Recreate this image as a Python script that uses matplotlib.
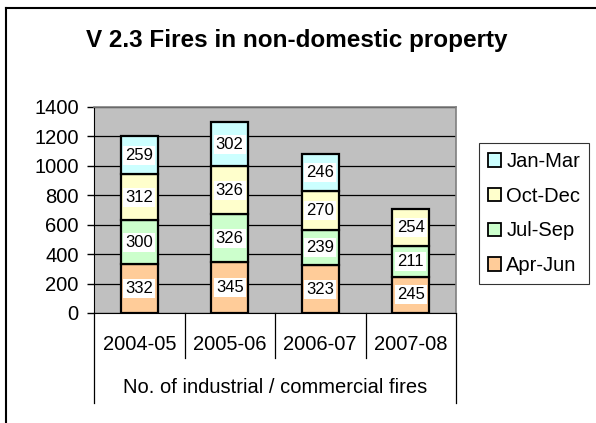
import matplotlib
matplotlib.use("Agg")
import matplotlib.pyplot as plt
from matplotlib.lines import Line2D
from matplotlib.patches import Patch
import numpy as np

plt.rcParams["font.family"] = ["Liberation Sans", "DejaVu Sans"]

YEARS = ["2004-05", "2005-06", "2006-07", "2007-08"]
QUARTERS = ["Apr-Jun", "Jul-Sep", "Oct-Dec", "Jan-Mar"]
APR_JUN = [332, 345, 323, 245]
JUL_SEP = [300, 326, 239, 211]
OCT_DEC = [312, 326, 270, 254]
JAN_MAR = [259, 302, 246, 0]
COLORS = ["#FFCC99", "#CCFFCC", "#FFFFCC", "#CCFFFF"]

TITLE = "V 2.3 Fires in non-domestic property"
GROUP_LABEL = "No. of industrial / commercial fires"

fig = plt.figure(figsize=(5.96, 4.23), dpi=100)
ax = fig.add_axes([94 / 596, 1 - 313 / 423, 362 / 596, 206 / 423])
ax.set_facecolor("#C0C0C0")

x = np.arange(len(YEARS))
bottom = np.zeros(len(YEARS))
handles = []
for name, vals, color in zip(QUARTERS, [APR_JUN, JUL_SEP, OCT_DEC, JAN_MAR], COLORS):
    vals = np.array(vals, dtype=float)
    mask = vals > 0
    ax.bar(x[mask], vals[mask], bottom=bottom[mask], width=0.41, color=color,
           edgecolor="black", linewidth=1.6, zorder=3)
    for xi, v, b in zip(x[mask], vals[mask], bottom[mask]):
        ax.text(xi, b + v / 2, f"{int(v)}", ha="center", va="center", fontsize=12,
                zorder=4, bbox=dict(facecolor="white", edgecolor="none", pad=1.5))
    bottom = bottom + vals
    handles.append(Patch(facecolor=color, edgecolor="black", linewidth=1.3, label=name))

ax.set_xlim(-0.5, 3.5)
ax.set_ylim(0, 1400)
ax.set_yticks(range(0, 1401, 200))
ax.tick_params(axis="y", labelsize=14.5, length=5, width=1, direction="out", pad=6)
ax.set_xticks([])
ax.yaxis.grid(True, color="black", linewidth=0.9, zorder=1)
ax.set_axisbelow(True)
for side in ["top", "right"]:
    ax.spines[side].set_color("#808080")
    ax.spines[side].set_linewidth(1.2)
ax.spines["left"].set_color("black")
ax.spines["bottom"].set_color("black")

# two-level category axis
tr = ax.get_xaxis_transform()
for i, sep in enumerate(np.arange(-0.5, 4.0, 1.0)):
    low = -0.437 if i in (0, 4) else -0.218
    ax.add_line(Line2D([sep, sep], [0, low], transform=tr, color="black",
                       linewidth=0.9, clip_on=False))
for xi, lab in zip(x, YEARS):
    ax.text(xi, -0.155, lab, transform=tr, ha="center", va="center", fontsize=14.5)
ax.text(1.5, -0.364, GROUP_LABEL, transform=tr, ha="center", va="center", fontsize=14.5)

fig.text(297 / 596, 1 - 40 / 423, TITLE, ha="center", va="center",
         fontsize=17.5, fontweight="bold")

leg = fig.legend(handles=handles[::-1], loc="upper left",
                 bbox_to_anchor=(479 / 596, 1 - 143 / 423), fontsize=14.5,
                 frameon=True, fancybox=False, edgecolor="black",
                 handlelength=0.65, handleheight=0.65, handletextpad=0.25,
                 labelspacing=0.78, borderpad=0.45, borderaxespad=0)
leg.get_frame().set_linewidth(0.8)

# outer chart border (left and top visible)
fig.add_artist(Line2D([6 / 596, 6 / 596], [0, 1 - 8 / 423], color="black", linewidth=1.5))
fig.add_artist(Line2D([6 / 596, 1], [1 - 8 / 423, 1 - 8 / 423], color="black", linewidth=1.5))

fig.savefig("out.png", dpi=100)
